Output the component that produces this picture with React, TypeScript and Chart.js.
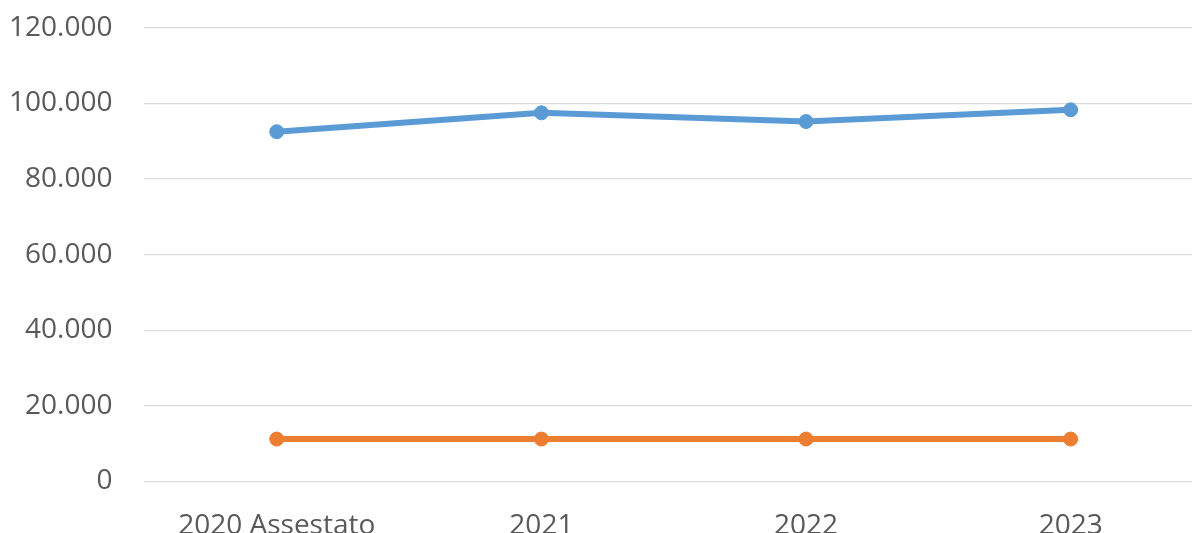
import React, { useEffect, useRef } from "react";
import { Chart, registerables } from "chart.js";

Chart.register(...registerables);

const categories = ["2020 Assestato", "2021", "2022", "2023"];
const seriesBlue = [92500, 97500, 95200, 98300];
const seriesOrange = [11200, 11200, 11200, 11200];
const yTicks = [0, 20000, 40000, 60000, 80000, 100000, 120000];

function fmt(v: number): string {
  const s = Math.round(v).toString();
  return s.replace(/\B(?=(\d{3})+(?!\d))/g, ".");
}

export default function App() {
  const ref = useRef<HTMLCanvasElement | null>(null);
  useEffect(() => {
    if (!ref.current) return;
    const chart = new Chart(ref.current, {
      type: "line",
      data: {
        labels: categories,
        datasets: [
          {
            label: "A",
            data: seriesBlue,
            borderColor: "#5B9BD5",
            backgroundColor: "#5B9BD5",
            borderWidth: 6,
            pointRadius: 7,
            pointBorderWidth: 1,
            pointBackgroundColor: "#5B9BD5",
            pointBorderColor: "#5B9BD5",
            tension: 0,
          },
          {
            label: "B",
            data: seriesOrange,
            borderColor: "#ED7D31",
            backgroundColor: "#ED7D31",
            borderWidth: 6,
            pointRadius: 7,
            pointBorderWidth: 1,
            pointBackgroundColor: "#ED7D31",
            pointBorderColor: "#ED7D31",
            tension: 0,
          },
        ],
      },
      options: {
        animation: false,
        responsive: false,
        maintainAspectRatio: false,
        layout: { padding: { left: 12, top: 12, right: 0, bottom: 0 } },
        plugins: { legend: { display: false }, tooltip: { enabled: false }, title: { display: false } },
        scales: {
          x: {
            offset: true,
            grid: { display: false, drawTicks: false },
            border: { display: false },
            ticks: {
              color: "#595959",
              font: { family: "'Open Sans'", size: 28 },
              padding: 28,
              maxRotation: 0,
              autoSkip: false,
            },
          },
          y: {
            min: 0,
            max: 120000,
            afterBuildTicks: (axis: any) => {
              axis.ticks = yTicks.map((v) => ({ value: v }));
            },
            grid: { color: "#D9D9D9", lineWidth: 1.3, drawTicks: false },
            border: { display: false },
            ticks: {
              color: "#595959",
              font: { family: "'Open Sans'", size: 28 },
              padding: 32,
              callback: (v: any) => fmt(Number(v)),
            },
          },
        },
      },
    });
    return () => chart.destroy();
  }, []);
  return (
    <div style={{ position: "absolute", left: 0, top: 0, width: 1192, height: 533, overflow: "hidden", background: "#fff" }}>
      <canvas
        ref={ref}
        width={1246}
        height={592}
        style={{ display: "block", position: "absolute", left: -35, top: -21 }}
      />
    </div>
  );
}
